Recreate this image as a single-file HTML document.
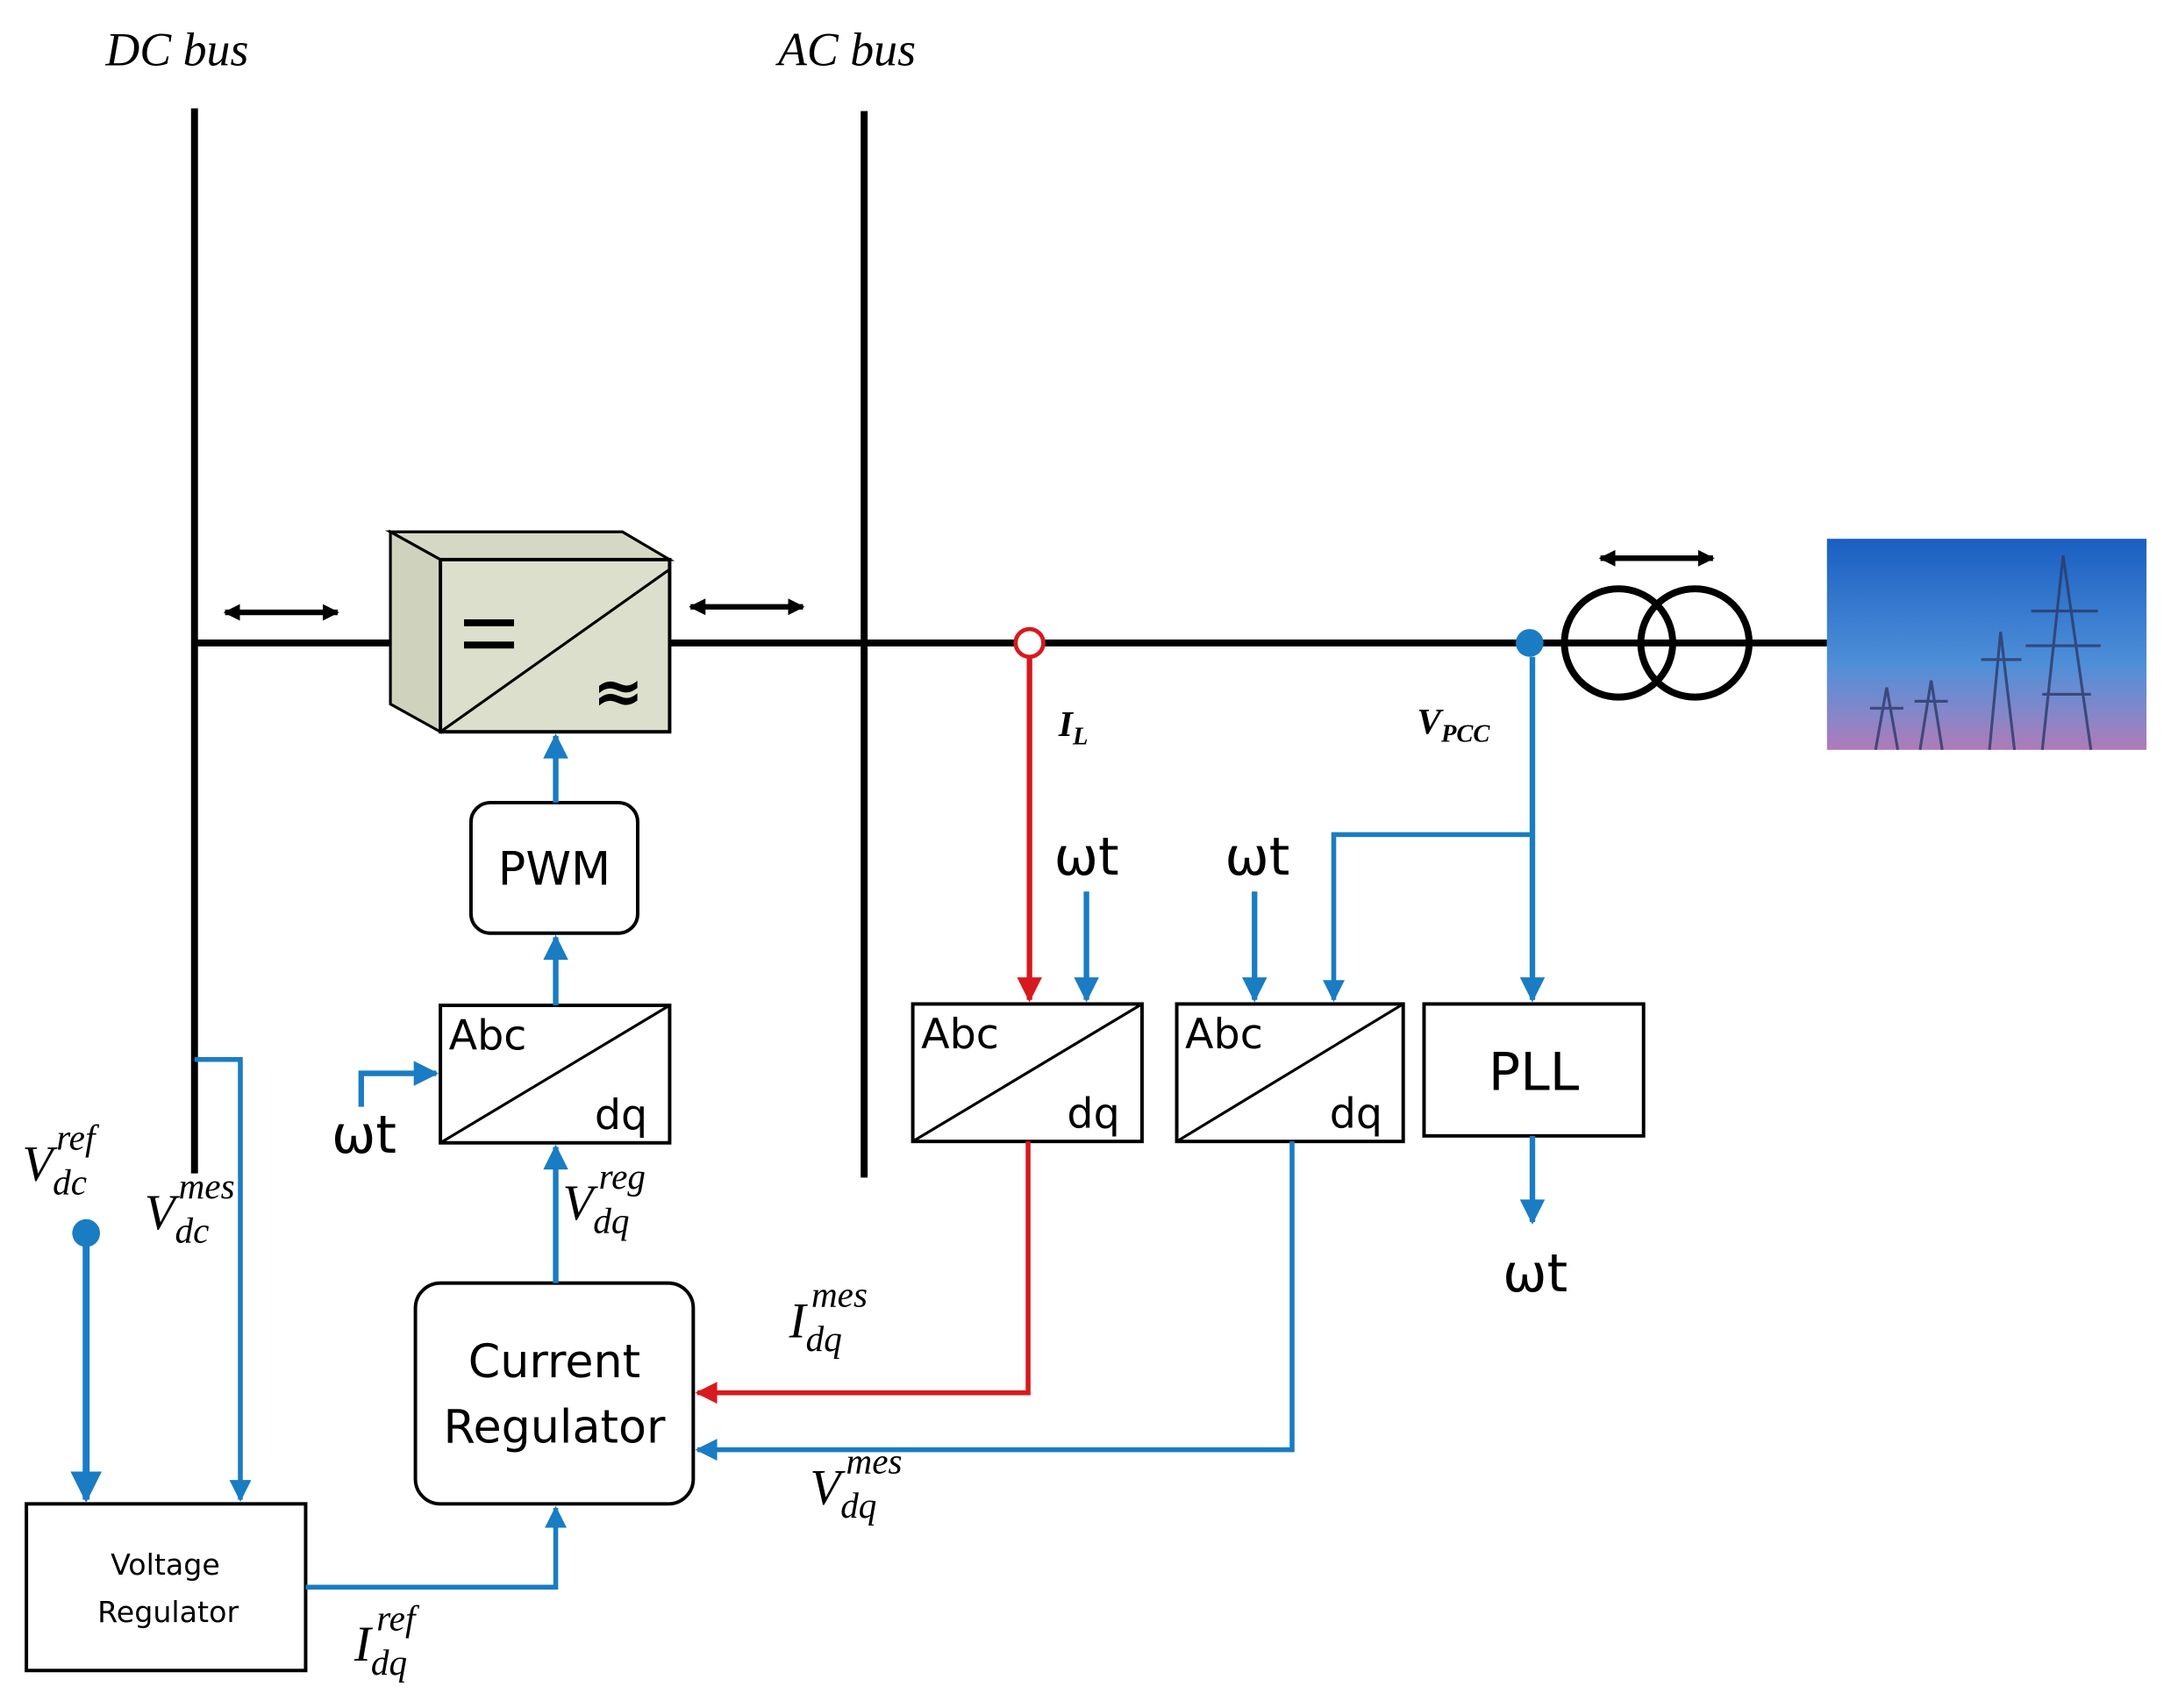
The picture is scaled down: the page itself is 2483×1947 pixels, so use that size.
<!DOCTYPE html>
<html><head><meta charset="utf-8"><style>
html,body{margin:0;padding:0;background:#fff;}
svg{display:block;}
.it{font-family:"Liberation Serif",serif;font-style:italic;}
.s{font-family:"DejaVu Sans","Liberation Sans",sans-serif;}
</style></head><body>
<svg width="2483" height="1947" viewBox="0 0 1552 1230" preserveAspectRatio="none" xmlns="http://www.w3.org/2000/svg">
<defs>
<marker id="ab" viewBox="0 0 10 10" refX="9" refY="5" markerWidth="5.5" markerHeight="4.5" orient="auto" markerUnits="strokeWidth"><path d="M0,0 L10,5 L0,10 z" fill="#1a7cc3"/></marker>
<marker id="ar" viewBox="0 0 10 10" refX="9" refY="5" markerWidth="5.5" markerHeight="4.5" orient="auto" markerUnits="strokeWidth"><path d="M0,0 L10,5 L0,10 z" fill="#d61a1f"/></marker>
<marker id="ak" viewBox="0 0 10 10" refX="9" refY="5" markerWidth="3" markerHeight="3" orient="auto-start-reverse" markerUnits="strokeWidth"><path d="M0,0 L10,5 L0,10 z" fill="#000"/></marker>
<linearGradient id="sky" x1="0" y1="0" x2="0" y2="1"><stop offset="0" stop-color="#1a5fc2"/><stop offset="0.6" stop-color="#4f8fd8"/><stop offset="0.85" stop-color="#8a86c8"/><stop offset="1" stop-color="#b07ab8"/></linearGradient>
</defs>
<g transform="scale(0.99,1)">
<text x="76" y="47" class="it" font-size="34">DC bus</text>
<text x="560" y="47" class="it" font-size="34">AC bus</text>

<line x1="140" y1="78" x2="140" y2="845" stroke="#000" stroke-width="5"/>
<line x1="622" y1="80" x2="622" y2="848" stroke="#000" stroke-width="5"/>
<line x1="140" y1="463" x2="1315" y2="463" stroke="#000" stroke-width="5"/>

<line x1="162" y1="441" x2="243" y2="441" stroke="#000" stroke-width="4" marker-start="url(#ak)" marker-end="url(#ak)"/>
<line x1="497" y1="437" x2="578" y2="437" stroke="#000" stroke-width="4" marker-start="url(#ak)" marker-end="url(#ak)"/>
<line x1="1152" y1="402" x2="1233" y2="402" stroke="#000" stroke-width="4" marker-start="url(#ak)" marker-end="url(#ak)"/>

<polygon points="281,383 448,383 482,403 317,403" fill="#d5d8c4" stroke="#000" stroke-width="2"/>
<polygon points="281,383 317,403 317,527 281,507" fill="#cfd2bd" stroke="#000" stroke-width="2"/>
<rect x="317" y="403" width="165" height="124" fill="#dcdfcc" stroke="#000" stroke-width="2.5"/>
<line x1="317" y1="527" x2="482" y2="410" stroke="#000" stroke-width="2"/>
<rect x="334" y="446" width="36" height="5" fill="#000"/>
<rect x="334" y="462" width="36" height="5" fill="#000"/>
<text x="445" y="513" font-family="DejaVu Sans,sans-serif" font-size="44" font-weight="bold" text-anchor="middle">≈</text>

<circle cx="741" cy="463" r="10" fill="#fff" stroke="#d61a1f" stroke-width="3"/>
<circle cx="1165" cy="463" r="39" fill="none" stroke="#000" stroke-width="5"/>
<circle cx="1220" cy="463" r="39" fill="none" stroke="#000" stroke-width="5"/>
<circle cx="1101" cy="463" r="10" fill="#1a7cc3"/>

<rect x="1315" y="388" width="230" height="152" fill="url(#sky)"/>
<g stroke="#2a3a6a" stroke-width="2" fill="none" opacity="0.8">
<path d="M1485,400 L1470,540 M1485,400 L1505,540 M1462,440 L1510,440 M1458,465 L1512,465 M1470,500 L1505,500"/>
<path d="M1440,455 L1432,540 M1440,455 L1450,540 M1426,475 L1455,475"/>
<path d="M1390,490 L1382,540 M1390,490 L1398,540 M1378,505 L1402,505"/>
<path d="M1358,495 L1350,540 M1358,495 L1366,540 M1346,510 L1370,510"/>
</g>

<text x="762" y="530" class="it" font-size="26" font-weight="bold">I<tspan font-size="18" dy="6">L</tspan></text>
<text x="1020" y="528" class="it" font-size="26" font-weight="bold">V<tspan font-size="18" dy="6">PCC</tspan></text>

<line x1="741" y1="473" x2="741" y2="720" stroke="#d61a1f" stroke-width="4" marker-end="url(#ar)"/>
<text x="782" y="630" class="s" font-size="38" text-anchor="middle">ωt</text>
<line x1="782" y1="642" x2="782" y2="720" stroke="#1a7cc3" stroke-width="4" marker-end="url(#ab)"/>
<text x="905" y="630" class="s" font-size="38" text-anchor="middle">ωt</text>
<line x1="903" y1="642" x2="903" y2="720" stroke="#1a7cc3" stroke-width="4" marker-end="url(#ab)"/>
<line x1="1103" y1="473" x2="1103" y2="720" stroke="#1a7cc3" stroke-width="4" marker-end="url(#ab)"/>
<polyline points="1103,601 960,601 960,720" fill="none" stroke="#1a7cc3" stroke-width="3.5" marker-end="url(#ab)"/>

<rect x="657" y="723" width="165" height="99" fill="#fff" stroke="#000" stroke-width="2.5"/>
<line x1="657" y1="822" x2="822" y2="723" stroke="#000" stroke-width="2"/>
<text x="663" y="755" class="s" font-size="30">Abc</text>
<text x="768" y="812" class="s" font-size="30">dq</text>
<rect x="847" y="723" width="163" height="99" fill="#fff" stroke="#000" stroke-width="2.5"/>
<line x1="847" y1="822" x2="1010" y2="723" stroke="#000" stroke-width="2"/>
<text x="853" y="755" class="s" font-size="30">Abc</text>
<text x="957" y="812" class="s" font-size="30">dq</text>
<rect x="1025" y="723" width="158" height="95" fill="#fff" stroke="#000" stroke-width="2.5"/>
<text x="1104" y="785" class="s" font-size="38" text-anchor="middle">PLL</text>
<line x1="1103" y1="818" x2="1103" y2="880" stroke="#1a7cc3" stroke-width="4" marker-end="url(#ab)"/>
<text x="1105" y="930" class="s" font-size="38" text-anchor="middle">ωt</text>

<rect x="339" y="578" width="120" height="94" rx="14" fill="#fff" stroke="#000" stroke-width="2.5"/>
<text x="399" y="637" class="s" font-size="33" text-anchor="middle">PWM</text>
<line x1="400" y1="578" x2="400" y2="530" stroke="#1a7cc3" stroke-width="4" marker-end="url(#ab)"/>

<rect x="317" y="724" width="165" height="99" fill="#fff" stroke="#000" stroke-width="2.5"/>
<line x1="317" y1="823" x2="482" y2="724" stroke="#000" stroke-width="2"/>
<text x="323" y="756" class="s" font-size="30">Abc</text>
<text x="428" y="813" class="s" font-size="30">dq</text>
<line x1="400" y1="724" x2="400" y2="675" stroke="#1a7cc3" stroke-width="4" marker-end="url(#ab)"/>
<polyline points="260,797 260,773 314,773" fill="none" stroke="#1a7cc3" stroke-width="4" marker-end="url(#ab)"/>
<text x="262" y="830" class="s" font-size="38" text-anchor="middle">ωt</text>

<rect x="299" y="924" width="200" height="159" rx="18" fill="#fff" stroke="#000" stroke-width="2.5"/>
<text x="399" y="992" class="s" font-size="33" text-anchor="middle">Current</text>
<text x="399" y="1039" class="s" font-size="33" text-anchor="middle">Regulator</text>
<line x1="400" y1="924" x2="400" y2="826" stroke="#1a7cc3" stroke-width="4" marker-end="url(#ab)"/>
<text x="405" y="878" class="it" font-size="36">V<tspan font-size="26" dy="10">dq</tspan><tspan font-size="26" dx="-22" dy="-32">reg</tspan></text>

<polyline points="740,822 740,1003 502,1003" fill="none" stroke="#d61a1f" stroke-width="3.5" marker-end="url(#ar)"/>
<text x="568" y="963" class="it" font-size="36">I<tspan font-size="26" dy="10">dq</tspan><tspan font-size="26" dx="-22" dy="-32">mes</tspan></text>
<polyline points="930,822 930,1044 502,1044" fill="none" stroke="#1a7cc3" stroke-width="3.5" marker-end="url(#ab)"/>
<text x="583" y="1083" class="it" font-size="36">V<tspan font-size="26" dy="10">dq</tspan><tspan font-size="26" dx="-22" dy="-32">mes</tspan></text>

<rect x="19" y="1083" width="201" height="120" fill="#fff" stroke="#000" stroke-width="2.5"/>
<text x="119" y="1134" class="s" font-size="21" text-anchor="middle">Voltage</text>
<text x="121" y="1168" class="s" font-size="21" text-anchor="middle">Regulator</text>
<polyline points="220,1143 400,1143 400,1086" fill="none" stroke="#1a7cc3" stroke-width="3.5" marker-end="url(#ab)"/>
<text x="255" y="1196" class="it" font-size="36">I<tspan font-size="26" dy="10">dq</tspan><tspan font-size="26" dx="-22" dy="-32">ref</tspan></text>

<circle cx="62" cy="888" r="10" fill="#1a7cc3"/>
<line x1="62" y1="888" x2="62" y2="1080" stroke="#1a7cc3" stroke-width="5" marker-end="url(#ab)"/>
<text x="16" y="850" class="it" font-size="36">V<tspan font-size="26" dy="10">dc</tspan><tspan font-size="26" dx="-22" dy="-32">ref</tspan></text>
<polyline points="140,763 173,763 173,1080" fill="none" stroke="#1a7cc3" stroke-width="3.5" marker-end="url(#ab)"/>
<text x="104" y="885" class="it" font-size="36">V<tspan font-size="26" dy="10">dc</tspan><tspan font-size="26" dx="-22" dy="-32">mes</tspan></text>
</g>
</svg>
</body></html>
